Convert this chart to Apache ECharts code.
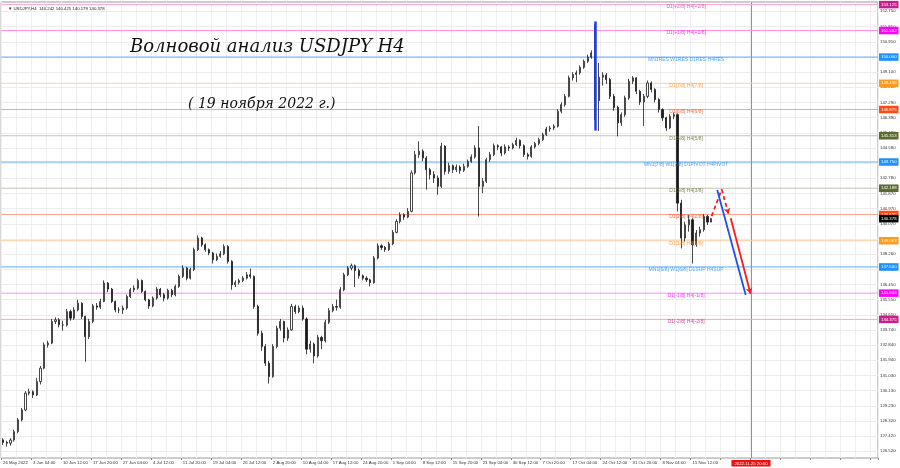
<!DOCTYPE html>
<html><head><meta charset="utf-8">
<script src="https://cdn.jsdelivr.net/npm/echarts@6/dist/echarts.min.js"></script>
<style>html,body{margin:0;padding:0;background:#fff}#c{width:900px;height:468px}</style>
</head><body><div id="c"></div><script>
// ---- data ----
const timeLabels = ["26 May 2022","3 Jun 04:00","10 Jun 12:00","17 Jun 20:00","27 Jun 04:00","4 Jul 12:00","11 Jul 20:00","19 Jul 04:00","26 Jul 12:00","2 Aug 20:00","10 Aug 04:00","17 Aug 12:00","24 Aug 20:00","1 Sep 04:00","8 Sep 12:00","15 Sep 20:00","23 Sep 04:00","30 Sep 12:00","7 Oct 20:00","17 Oct 04:00","24 Oct 12:00","31 Oct 20:00","8 Nov 04:00","15 Nov 12:00"];
const futureLabel = "2022.11.25 20:00";
const futureIndex = 199.6;
// each candle = 4 H4 bars: [open, close, low, high]
const candles = [
[127.20,127.05,126.90,127.30],[127.05,127.00,126.80,127.15],[127.00,127.19,126.85,127.30],[127.19,127.69,127.10,127.80],
[127.69,128.39,127.60,128.50],[128.39,128.98,128.30,129.10],[128.98,129.98,128.90,130.10],[129.98,130.07,129.85,130.25],
[130.07,129.88,129.70,130.15],[129.88,130.67,129.80,130.90],[130.67,131.47,130.50,131.60],[131.47,132.86,131.40,133.00],
[132.86,132.96,132.70,133.10],[132.96,134.25,132.90,134.40],[134.25,134.35,134.10,134.50],[134.35,134.05,133.90,134.45],
[134.05,134.05,133.70,134.30],[134.05,134.84,133.95,135.00],[134.84,134.45,134.30,134.95],[134.45,134.94,134.35,135.10],
[134.94,135.34,134.85,135.55],[135.34,134.55,134.40,135.40],[134.55,133.35,131.85,134.60],[133.35,134.25,133.20,134.40],
[134.25,135.18,134.15,135.30],[135.18,135.10,134.95,135.35],[135.10,135.44,135.00,135.60],[135.44,136.54,135.40,136.70],
[136.54,136.18,136.00,136.60],[136.18,135.44,135.35,136.25],[135.44,134.94,134.80,135.50],[134.94,134.94,134.75,135.10],
[134.94,135.05,134.70,135.20],[135.05,135.74,134.95,135.85],[135.74,136.14,135.65,136.25],[136.14,136.24,136.00,136.40],
[136.24,136.69,136.15,136.80],[136.69,136.04,135.95,136.75],[136.04,135.54,135.45,136.10],[135.54,135.18,135.00,135.60],
[135.18,135.64,135.10,135.75],[135.64,136.18,135.55,136.30],[136.18,135.84,135.70,136.25],[135.84,135.64,135.45,135.95],
[135.64,136.10,135.55,136.20],[136.10,135.84,135.70,136.20],[135.84,136.34,135.75,136.45],[136.34,136.93,136.25,137.05],
[136.93,137.43,136.85,137.60],[137.43,136.83,136.70,137.50],[136.83,137.33,136.75,137.45],[137.33,138.53,137.25,138.65],
[138.53,139.22,138.45,139.38],[139.22,138.82,138.70,139.30],[138.82,138.53,138.40,138.90],[138.53,138.33,138.20,138.60],
[138.33,137.93,137.70,138.40],[137.93,138.13,137.85,138.30],[138.13,138.28,138.05,138.45],[138.28,138.72,138.20,138.85],
[138.72,137.83,137.70,138.80],[137.83,136.44,136.14,137.90],[136.44,136.57,136.30,136.70],[136.57,136.69,136.45,136.80],
[136.69,136.83,136.60,136.95],[136.83,137.03,136.75,137.20],[137.03,136.93,136.80,137.40],[136.93,135.14,135.00,137.00],
[135.14,133.55,133.40,135.25],[133.55,132.76,132.50,133.70],[132.76,131.77,131.60,132.90],[131.77,130.97,130.55,131.90],
[130.97,132.76,130.90,132.90],[132.76,133.85,132.65,134.00],[133.85,134.25,133.70,134.40],[134.25,133.26,133.00,134.30],
[133.26,133.75,133.10,133.90],[133.75,135.14,133.70,135.30],[135.14,134.84,134.70,135.25],[134.84,135.05,134.75,135.20],
[135.05,134.40,134.30,135.20],[134.40,132.60,132.30,134.50],[132.60,132.90,132.40,133.10],[132.90,132.20,131.75,133.00],
[132.20,133.30,132.10,133.45],[133.30,133.10,132.60,133.40],[133.10,134.20,133.00,134.35],[134.20,134.90,134.10,135.05],
[134.90,135.14,134.80,135.30],[135.14,135.10,134.90,135.55],[135.10,136.14,135.00,136.30],[136.14,137.03,136.05,137.15],
[137.03,137.43,136.95,137.55],[137.43,137.57,137.30,137.70],[137.57,137.29,136.30,137.65],[137.29,136.97,136.80,137.40],
[136.97,136.83,136.70,137.05],[136.83,136.73,136.60,136.95],[136.73,136.57,136.34,136.80],[136.57,138.03,136.50,138.15],
[138.03,138.76,137.95,138.90],[138.76,138.66,138.50,138.85],[138.66,138.53,138.40,138.75],[138.53,138.88,138.45,139.00],
[138.88,139.56,138.80,139.70],[139.56,140.21,139.50,140.35],[140.21,140.61,140.10,140.75],[140.61,140.47,140.30,140.70],
[140.47,140.81,140.40,141.00],[140.81,143.10,140.75,143.25],[143.10,144.19,143.00,144.40],[144.19,144.39,144.00,144.98],
[144.39,143.99,143.80,144.50],[143.99,143.29,142.10,144.10],[143.29,143.00,142.70,143.40],[143.00,142.80,142.50,143.20],
[142.80,142.30,141.80,142.95],[142.30,144.69,142.20,144.89],[144.69,143.19,143.00,144.75],[143.19,143.53,143.05,143.70],
[143.53,143.29,143.10,143.60],[143.29,143.45,143.15,143.60],[143.45,143.25,143.05,143.55],[143.25,143.49,143.15,143.65],
[143.49,143.79,143.40,143.90],[143.79,144.05,143.70,144.20],[144.05,144.59,143.95,144.75],[144.59,142.30,140.50,145.90],
[142.30,142.60,141.90,142.80],[142.60,143.89,142.50,144.00],[143.89,144.19,143.75,144.35],[144.19,144.72,144.10,144.85],
[144.72,144.65,144.45,144.80],[144.65,144.29,144.10,144.70],[144.29,144.65,144.20,144.80],[144.65,144.59,144.40,144.75],
[144.59,144.78,144.50,144.90],[144.78,145.04,144.70,145.20],[145.04,144.72,144.55,145.10],[144.72,144.19,144.05,144.80],
[144.19,144.09,143.90,144.30],[144.09,144.65,144.00,144.75],[144.65,144.85,144.55,144.95],[144.85,145.08,144.75,145.20],
[145.08,145.38,145.00,145.50],[145.38,145.72,145.30,145.85],[145.72,145.78,145.55,145.90],[145.78,145.88,145.65,146.00],
[145.88,146.77,145.80,146.90],[146.77,147.17,146.65,147.30],[147.17,147.66,147.05,147.80],[147.66,148.76,147.60,148.90],
[148.76,148.96,148.60,149.10],[148.96,149.06,148.50,149.20],[149.06,149.39,148.95,149.50],[149.39,149.75,149.30,149.85],
[149.75,149.99,149.65,150.15],[149.99,150.25,149.90,150.40],[150.25,147.40,146.25,151.94],[147.40,148.80,145.60,149.65],
[148.80,148.92,148.30,149.10],[148.92,148.66,148.40,149.05],[148.66,147.66,147.50,148.75],[147.66,147.00,146.80,147.80],
[147.00,146.08,145.28,147.10],[146.08,146.57,145.90,146.70],[146.57,147.57,146.45,147.70],[147.57,148.56,147.45,148.70],
[148.56,148.76,148.40,148.86],[148.76,147.96,147.80,148.80],[147.96,147.33,147.15,148.05],[147.33,147.66,145.90,147.80],
[147.66,148.46,147.55,148.60],[148.46,148.07,147.90,148.55],[148.07,147.47,147.30,148.15],[147.47,146.87,146.70,147.55],
[146.87,146.38,146.20,146.95],[146.38,145.78,145.60,146.45],[145.78,146.47,145.70,146.60],[146.47,146.57,146.30,146.70],
[146.57,141.30,140.80,146.65],[141.30,139.22,138.60,141.50],[139.22,140.01,139.00,140.20],[140.01,140.31,139.60,140.60],
[140.31,138.82,137.70,140.40],[138.82,139.52,138.70,139.70],[139.52,139.72,139.30,139.90],[139.72,140.51,139.60,140.65],
[140.51,140.17,140.00,140.60],[140.17,140.38,140.18,140.43]
];
const priceTicks = [126.520,127.420,128.320,129.230,130.130,131.030,131.940,132.840,133.740,134.650,135.550,136.450,137.350,138.260,139.160,140.070,140.970,141.870,142.780,143.680,144.580,145.480,146.390,147.290,148.200,149.100,150.000,150.910,151.810,152.750];
const levelValues = [153.125,151.582,150.000,148.438,146.875,145.313,143.750,142.188,140.625,139.063,137.500,135.938,134.375];
const levelNames = ["D1[+2/8] H4[+2/8]","D1[+1/8] H4[+1/8]","MN1RES W1RES D1RES H4RES","D1[7/8] H4[7/8]","D1[6/8] H4[6/8]","D1[5/8] H4[5/8]","MN1[7/8] W1[7/8] D1PIVOT H4PIVOT","D1[3/8] H4[3/8]","D1[2/8] H4[2/8]","D1[1/8] H4[1/8]","MN1[6/8] W1[6/8] D1SUP H4SUP","D1[-1/8] H4[-1/8]","D1[-2/8] H4[-2/8]"];
const currentPrice = 140.378;
const headerText = "\u25BC USDJPY,H4  140.242 140.425 140.179 140.378";
const titleText = "Волновой анализ USDJPY H4";
const subtitleText = "( 19 ноября 2022 г.)";
// annotation points: [candle index, price]
const blueVertical = [[158.1,152.12],[158.1,145.62]];
const redDashed = [[189.1,140.53],[191.8,142.12],[193.6,140.65]];
const redSolid = [[194.2,140.40],[199.5,135.89]];
const blueSolid = [[190.6,142.08],[198.2,135.83]];

// ---- styles ----
const lineColors = ['#f9a3d2','#fb92f3','#62adf5','#fdcfa4','#fca191','#c4c4ae','#62adf5','#c4c4ae','#fca191','#fdcfa4','#62adf5','#fb92f3','#f9a3d2'];
const boxColors  = ['#c8208a','#ff00ff','#1e90ff','#ff9a1e','#ff4a10','#5a6b30','#1e90ff','#5a6b30','#ff4a10','#ff9a1e','#1e90ff','#ff00ff','#c8208a'];
const textColors = ['#e040a8','#ff00ff','#1e90ff','#ff9020','#ff4a10','#5a6b30','#1e90ff','#5a6b30','#ff4a10','#ff9020','#1e90ff','#ff00ff','#c8208a'];
const N = 234;
const categories = Array.from({length: N}, (_, i) => (i % 8 === 0 && i / 8 < timeLabels.length) ? timeLabels[i / 8] : '');
const SMALL = 'Liberation Sans';
const RED = '#ff1a1a';
const boxLabel = (txt, bg) => ({show: true, formatter: txt, backgroundColor: bg, color: '#fff', fontFamily: SMALL, fontSize: 4.3, padding: [2, 2, 1.5, 2], distance: 1});

const levelSeries = levelValues.map((v, i) => ({
  type: 'line', xAxisIndex: 1, silent: true, z: 2, symbol: 'none', animation: false,
  data: [[-0.5, v], [N - 0.5, v]],
  lineStyle: {color: lineColors[i], width: 1},
  endLabel: boxLabel(v.toFixed(3), boxColors[i])
}));

const chart = echarts.init(document.getElementById('c'), null, {renderer: 'canvas'});

chart.setOption({
  animation: false,
  backgroundColor: '#ffffff',
  title: [
    {text: headerText, left: 3, top: 2, textStyle: {fontFamily: SMALL, fontSize: 4.3, fontWeight: 'normal', color: '#222'}},
    {text: titleText, left: 125, top: 33, textStyle: {fontFamily: 'DejaVu Serif', fontStyle: 'italic', fontSize: 18, fontWeight: 'normal', color: '#111'}},
    {text: subtitleText, left: 183, top: 92, textStyle: {fontFamily: 'DejaVu Serif', fontStyle: 'italic', fontSize: 14, fontWeight: 'normal', color: '#111'}}
  ],
  grid: {left: 1, right: 22, top: 2, bottom: 10, show: true, borderColor: '#9a9a9a', borderWidth: 1, backgroundColor: 'transparent'},
  xAxis: [
    {type: 'category', data: categories, boundaryGap: true,
     axisLine: {show: false}, axisTick: {show: true, interval: (i) => i % 8 === 0, length: 2, lineStyle: {color: '#888'}},
     axisLabel: {show: true, interval: 0, align: 'left', fontFamily: SMALL, fontSize: 4.3, color: '#333', margin: 3},
     splitLine: {show: true, interval: (i) => i % 4 === 0, lineStyle: {color: '#efefef', width: 1}}},
    {type: 'value', min: -0.5, max: N - 0.5, show: false}
  ],
  yAxis: [{type: 'value', min: 126.12, max: 153.28, position: 'right', show: true,
           axisLine: {show: false}, axisTick: {show: false}, axisLabel: {show: false}, splitLine: {show: false}}],
  series: [
    {type: 'line', xAxisIndex: 1, data: [[0, 140]], symbol: 'none', lineStyle: {opacity: 0}, silent: true, z: 1,
     markLine: {silent: true, symbol: 'none', animation: false, z: 1,
       lineStyle: {color: '#ececec', width: 1, type: 'solid'},
       label: {show: true, position: 'end', distance: 2, fontFamily: SMALL, fontSize: 4.3, color: '#333', formatter: (p) => p.value.toFixed(3)},
       data: priceTicks.map(v => ({yAxis: v}))}}
  ].concat(levelSeries).concat([
    {type: 'line', xAxisIndex: 1, silent: true, z: 2, symbol: 'none', data: [[-0.5, currentPrice], [N - 0.5, currentPrice]],
     lineStyle: {opacity: 0}, endLabel: boxLabel(currentPrice.toFixed(3), '#000')},
    {type: 'line', xAxisIndex: 1, data: [[0, 140]], symbol: 'none', lineStyle: {opacity: 0}, silent: true, z: 2,
     markLine: {silent: true, symbol: 'none', animation: false, z: 2,
       data: [{xAxis: futureIndex, lineStyle: {color: '#f26b6b', width: 1, type: 'solid'},
           label: {show: true, position: 'start', distance: 2, formatter: futureLabel, backgroundColor: '#f01010', color: '#fff', fontFamily: SMALL, fontSize: 4.3, padding: [1.5, 3, 1, 3]}}]}},
    {type: 'candlestick', xAxisIndex: 0, yAxisIndex: 0, data: candles, barWidth: 1.6, z: 3,
     itemStyle: {color: '#ffffff', color0: '#1a1a1a', borderColor: '#1a1a1a', borderColor0: '#1a1a1a', borderWidth: 0.8}},
    {type: 'scatter', xAxisIndex: 1, symbolSize: 0, z: 4, silent: true,
     data: levelValues.map((v, i) => ({value: [182.3, v], label: {color: textColors[i]}})),
     label: {show: true, position: 'inside', offset: [0, 2.5], fontFamily: SMALL, fontSize: 5, formatter: (p) => levelNames[p.dataIndex]}},
    {type: 'line', xAxisIndex: 1, data: [[0, 140]], symbol: 'none', lineStyle: {opacity: 0}, silent: true, z: 6,
     markLine: {silent: true, animation: false, label: {show: false},
       data: [
         [{coord: blueVertical[0], symbol: 'none', lineStyle: {color: '#1f3cf0', width: 2.5, type: 'solid'}}, {coord: blueVertical[1], symbol: 'none'}],
         [{coord: redDashed[0], symbol: 'none', lineStyle: {color: RED, width: 1.8, type: [4, 3]}}, {coord: redDashed[1], symbol: 'none'}],
         [{coord: redDashed[1], symbol: 'none', lineStyle: {color: RED, width: 1.8, type: [4, 3]}}, {coord: redDashed[2], symbol: 'arrow', symbolSize: [5, 6]}],
         [{coord: redSolid[0], symbol: 'none', lineStyle: {color: RED, width: 1.8, type: 'solid'}}, {coord: redSolid[1], symbol: 'arrow', symbolSize: [5, 6]}],
         [{coord: blueSolid[0], symbol: 'none', lineStyle: {color: '#2050f0', width: 1.8, type: 'solid'}}, {coord: blueSolid[1], symbol: 'none'}]
       ]
     }}
  ])
});
</script></body></html>
